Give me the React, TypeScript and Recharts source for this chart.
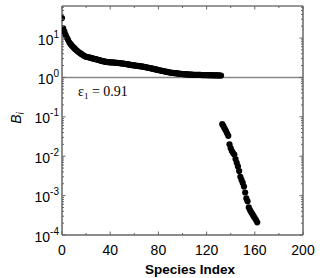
import React from "react";
import { ScatterChart, Scatter, XAxis, YAxis, ReferenceLine } from "recharts";

// B_i for species ranked 0..132 (upper branch, > 1)
const upperValues = [
  32, 17.5, 14.5, 12, 10.3, 9.0, 7.8, 7.1, 6.5, 6.0, 5.6, 5.2, 4.9, 4.6, 4.35, 4.15, 3.95, 3.75, 3.6, 3.45, 3.35,
  3.3, 3.25, 3.2, 3.12, 3.06, 3.0, 2.95, 2.9, 2.85, 2.8, 2.74, 2.68, 2.63, 2.58, 2.54, 2.5, 2.47, 2.45, 2.43, 2.42,
  2.41, 2.4, 2.39, 2.37, 2.36, 2.34, 2.32, 2.3, 2.28, 2.26, 2.24, 2.22, 2.19, 2.17, 2.14, 2.11,
  2.09, 2.06, 2.04, 2.02, 2.0, 1.98, 1.96, 1.94, 1.92, 1.9, 1.88, 1.85, 1.83, 1.8, 1.78, 1.76, 1.73,
  1.7, 1.67, 1.65, 1.62, 1.59, 1.57, 1.54, 1.52, 1.49, 1.47, 1.45, 1.43, 1.41, 1.39, 1.37, 1.35, 1.33,
  1.31, 1.3, 1.29, 1.28, 1.27, 1.26, 1.25, 1.24, 1.23, 1.22, 1.21, 1.21, 1.2, 1.19, 1.19, 1.18,
  1.18, 1.18, 1.17, 1.17, 1.17, 1.16, 1.16, 1.16, 1.16, 1.15, 1.15, 1.15, 1.15, 1.15, 1.14, 1.14,
  1.14, 1.14, 1.14, 1.13, 1.13, 1.13, 1.13, 1.13, 1.12, 1.12,
];
const upperStart = 0;

// B_i for the lower branch (< 1)
const lowerValues = [
  0.065, 0.058, 0.05, 0.044, 0.038, 0.033, 0.02, 0.016, 0.0135, 0.012, 0.011, 0.0085, 0.0068, 0.0055, 0.0042,
  0.003, 0.0025, 0.0021, 0.0017, 0.0012, 0.00085, 0.00072, 0.0005, 0.00043, 0.00038, 0.00034, 0.0003, 0.00027,
  0.00024, 0.00021,
];
const lowerStart = 133;

const xMajorTicks = [0, 40, 80, 120, 160, 200];
const xMinorTicks = [20, 60, 100, 140, 180];
const yExponents = [-4, -3, -2, -1, 0, 1];
const yDomain = [1e-4, 65];
const xLabel = "Species Index";
const annotationValue = "0.91";

const upperData = upperValues.map((v, i) => ({ x: upperStart + i, y: v }));
const lowerData = lowerValues.map((v, i) => ({ x: lowerStart + i, y: v }));

const yMajor = yExponents.map((e) => Math.pow(10, e));
const yMinor: number[] = [];
yExponents.forEach((e) => {
  for (let m = 2; m <= 9; m++) {
    const v = m * Math.pow(10, e);
    if (v <= yDomain[1]) yMinor.push(v);
  }
});
const yAllTicks = [...yMajor, ...yMinor].sort((a, b) => a - b);
const xAllTicks = [...xMajorTicks, ...xMinorTicks].sort((a, b) => a - b);

const AX = "#666";
const FONT = "'Liberation Sans', Arial, sans-serif";

const isMajorY = (v: number) => yMajor.some((m) => Math.abs(m - v) / m < 1e-6);

const LeftTick = (props: any) => {
  const { x, y, payload } = props;
  const v = payload.value;
  const major = isMajorY(v);
  const len = major ? 3.5 : 2;
  const e = Math.round(Math.log10(v));
  return (
    <g>
      <line x1={x} x2={x + len} y1={y} y2={y} stroke={AX} strokeWidth={1} />
      {major && (
        <text x={x - 3} y={y + 6.5} textAnchor="end" fontFamily={FONT} fontSize={14} fill="#000">
          10
          <tspan dy={-7} fontSize={10}>
            {String(e)}
          </tspan>
        </text>
      )}
    </g>
  );
};

const RightTick = (props: any) => {
  const { x, y, payload } = props;
  const major = isMajorY(payload.value);
  const len = major ? 3.5 : 2;
  return <line x1={x} x2={x - len} y1={y} y2={y} stroke={AX} strokeWidth={1} />;
};

const BottomTick = (props: any) => {
  const { x, y, payload } = props;
  const v = payload.value;
  const major = xMajorTicks.includes(v);
  return (
    <g>
      <line x1={x} x2={x} y1={y} y2={y - (major ? 3.5 : 2)} stroke={AX} strokeWidth={1} />
      {major && (
        <text x={x} y={y + 19.5} textAnchor="middle" fontFamily={FONT} fontSize={14} fill="#000">
          {v}
        </text>
      )}
    </g>
  );
};

const TopTick = (props: any) => {
  const { x, y, payload } = props;
  const major = xMajorTicks.includes(payload.value);
  return <line x1={x} x2={x} y1={y} y2={y + (major ? 3.5 : 2)} stroke={AX} strokeWidth={1} />;
};

const Dot = (props: any) => {
  const { cx, cy } = props;
  if (cx == null || cy == null) return null;
  return <circle cx={cx} cy={cy} r={3.1} fill="#000" />;
};

export default function App() {
  return (
    <div style={{ position: "fixed", left: 0, top: 0, width: 332, height: 278, background: "#fff" }}>
      <ScatterChart width={332} height={278} margin={{ top: 0, right: 0, bottom: 0, left: 0 }}>
        <XAxis
          xAxisId="b"
          type="number"
          dataKey="x"
          domain={[0, 200]}
          ticks={xAllTicks}
          interval={0}
          orientation="bottom"
          height={43}
          tickLine={false}
          tickSize={0}
          tickMargin={0}
          tick={<BottomTick />}
          axisLine={{ stroke: AX, strokeWidth: 1.5 }}
          allowDataOverflow
        />
        <XAxis
          xAxisId="t"
          type="number"
          dataKey="x"
          domain={[0, 200]}
          ticks={xAllTicks}
          interval={0}
          orientation="top"
          height={6}
          tickLine={false}
          tickSize={0}
          tickMargin={0}
          tick={<TopTick />}
          axisLine={{ stroke: "#333", strokeWidth: 1 }}
          allowDataOverflow
        />
        <YAxis
          yAxisId="l"
          type="number"
          dataKey="y"
          scale="log"
          domain={yDomain}
          ticks={yAllTicks}
          interval={0}
          orientation="left"
          width={62}
          tickLine={false}
          tickSize={0}
          tickMargin={0}
          tick={<LeftTick />}
          axisLine={{ stroke: AX, strokeWidth: 1.5 }}
          allowDataOverflow
        />
        <YAxis
          yAxisId="r"
          type="number"
          dataKey="y"
          scale="log"
          domain={yDomain}
          ticks={yAllTicks}
          interval={0}
          orientation="right"
          width={29}
          tickLine={false}
          tickSize={0}
          tickMargin={0}
          tick={<RightTick />}
          axisLine={{ stroke: AX, strokeWidth: 1.5 }}
          allowDataOverflow
        />
        <ReferenceLine xAxisId="b" yAxisId="l" y={1} stroke="#888" strokeWidth={1.5} ifOverflow="extendDomain" />
        <Scatter xAxisId="b" yAxisId="l" data={upperData} shape={<Dot />} isAnimationActive={false} />
        <Scatter xAxisId="b" yAxisId="l" data={lowerData} shape={<Dot />} isAnimationActive={false} />
      </ScatterChart>
      <div
        style={{
          position: "absolute",
          left: 78,
          top: 84,
          fontFamily: "'Liberation Serif', 'Times New Roman', serif",
          fontSize: 14,
          lineHeight: "16px",
          whiteSpace: "nowrap",
          color: "#000",
        }}
      >
        ε<sub style={{ fontSize: 9, verticalAlign: "-3px" }}>1</sub> = {annotationValue}
      </div>
      <div
        style={{
          position: "absolute",
          left: 18,
          top: 118,
          transform: "translate(-50%, -50%) rotate(-90deg)",
          fontFamily: FONT,
          fontSize: 14,
          fontStyle: "italic",
          whiteSpace: "nowrap",
          color: "#000",
          lineHeight: "16px",
        }}
      >
        B<sub style={{ fontSize: 10, verticalAlign: "-3px" }}>i</sub>
      </div>
      <div
        style={{
          position: "absolute",
          left: 190,
          top: 262,
          transform: "translateX(-50%)",
          fontFamily: FONT,
          fontSize: 13.5,
          fontWeight: "bold",
          whiteSpace: "nowrap",
          color: "#000",
          lineHeight: "15px",
        }}
      >
        {xLabel}
      </div>
    </div>
  );
}
